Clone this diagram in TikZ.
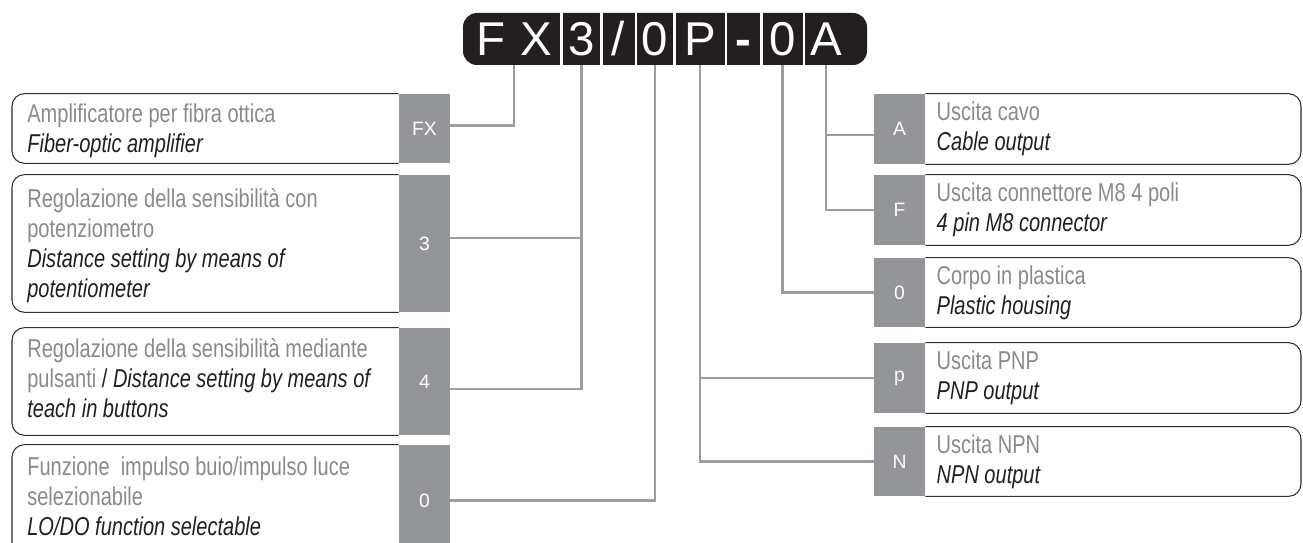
\documentclass[tikz,border=0pt]{standalone}
\usepackage{fontspec}
\setmainfont{Liberation Sans}[FakeStretch=0.775]
\newfontfamily\codefont{Liberation Sans}
\usetikzlibrary{positioning}

\definecolor{barblack}{RGB}{35,31,32}
\definecolor{keygray}{RGB}{147,149,152}
\definecolor{wiregray}{RGB}{155,157,160}
\definecolor{lightdesc}{RGB}{138,138,141}
\definecolor{darkdesc}{RGB}{35,31,32}
\definecolor{framegray}{RGB}{45,45,45}

\newcommand{\itl}[1]{{\color{lightdesc}#1}}
\newcommand{\enl}[1]{{\color{darkdesc}\itshape #1}}

\tikzset{
  key/.style={fill=keygray, text=white, inner sep=0pt, minimum width=1.02cm,
    font=\codefont\fontsize{11}{11}\selectfont},
  code/.style={text=white, inner sep=0pt, minimum height=1.04cm,
    text height=0.68cm, text depth=0pt,
    font=\codefont\fontsize{27}{27}\selectfont},
  wire/.style={draw=wiregray, line width=1.2pt},
  frame/.style={draw=framegray, line width=0.6pt, rounded corners=0.25cm},
  desc/.style={anchor=north west, align=left, inner sep=0pt,
    font=\fontsize{14.7}{17.1}\selectfont},
}

\begin{document}
\begin{tikzpicture}[x=0.02cm, y=-0.02cm]
        \useasboundingbox (0,0) rectangle (1303,543);
        \clip (0,0) rectangle (1303,543);

        % code bar
        \fill[barblack, rounded corners=0.28cm] (463,13) rectangle (867,65);
        \foreach \x in {561.5,601.5,636,674.5,726,761.5,804}
            \draw[white, line width=1.4pt] (\x,13) -- (\x,65);
        \node[code] (codeFX) at (514,39) {F\hspace{0.3cm}X};
        \node[code] (code3) at (581.5,39) {3};
        \node[code] (codeSl) at (618.5,39) {/};
        \node[code] (code0) at (655,39) {0};
        \node[code] (codeP) at (700,39) {P};
        \node[code] (codeDash) at (743.5,39) {\bfseries -};
        \node[code] (codeO) at (782.5,39) {0};
        \node[code] (codeA) at (826,39) {A};

        \coordinate (lx) at (12,0);
        \coordinate (rx) at (1301,0);

        % left keys
        \node[key, minimum height=1.38cm] (keyFX) at (424.5,128.5) {FX};
        \node[key, minimum height=2.74cm] (key3) at (424.5,243.5) {3};
        \node[key, minimum height=2.14cm] (key4) at (424.5,381.5) {4};
        \node[key, minimum height=2.22cm] (key0) at (424.5,500.5) {0};

        % right keys
        \node[key, minimum height=1.40cm] (keyA) at (899.5,129) {A};
        \node[key, minimum height=1.40cm] (keyF) at (899.5,210) {F};
        \node[key, minimum height=1.38cm] (keyO) at (899.5,292.5) {0};
        \node[key, minimum height=1.40cm] (keyP) at (899.5,378) {p};
        \node[key, minimum height=1.38cm] (keyN) at (899.5,461.5) {N};

        \foreach \k in {keyFX,key3,key4,key0}
            \draw[frame] (\k.north west) -- (\k.north west -| lx) -- (\k.south west -| lx) -- (\k.south west);
        \foreach \k in {keyA,keyF,keyO,keyP,keyN}
            \draw[frame] (\k.north east) -- (\k.north east -| rx) -- (\k.south east -| rx) -- (\k.south east);

        \node[desc] (descFX) at (27,101) {\strut\itl{Amplificatore per fibra ottica}\\ \enl{Fiber-optic amplifier}};
        \node[desc] (desc3) at (27,186) {\strut\itl{Regolazione della sensibilità con}\\ \itl{potenziometro}\\ \enl{Distance setting by means of}\\ \enl{potentiometer}};
        \node[desc] (desc4) at (27,336) {\strut\itl{Regolazione della sensibilità mediante}\\ \itl{pulsanti} {\color{darkdesc}/} \enl{Distance setting by means of}\\ \enl{teach in buttons}};
        \node[desc] (desc0) at (27,454) {\strut\itl{Funzione\ \ impulso buio/impulso luce}\\ \itl{selezionabile}\\ \enl{LO/DO function selectable}};

        \node[desc, below right=0.1cm and 0.22cm of keyA.north east] (descA) {\strut\itl{Uscita cavo}\\ \enl{Cable output}};
        \node[desc, below right=0.1cm and 0.22cm of keyF.north east] (descF) {\strut\itl{Uscita connettore M8 4 poli}\\ \enl{4 pin M8 connector}};
        \node[desc, below right=0.1cm and 0.22cm of keyO.north east] (descO) {\strut\itl{Corpo in plastica}\\ \enl{Plastic housing}};
        \node[desc, below right=0.1cm and 0.22cm of keyP.north east] (descP) {\strut\itl{Uscita PNP}\\ \enl{PNP output}};
        \node[desc, below right=0.1cm and 0.22cm of keyN.north east] (descN) {\strut\itl{Uscita NPN}\\ \enl{NPN output}};

        % connectors
        \draw[wire] ([yshift=0.06cm]keyFX.east) -| (codeFX.south);
        \draw[wire] ([yshift=0.11cm]key3.east) -| (code3.south);
        \draw[wire] ([yshift=-0.15cm]key4.east) -| (code3.south);
        \draw[wire] (key0.east) -| (code0.south);
        \draw[wire] ([yshift=-0.12cm]keyA.west) -| (codeA.south);
        \draw[wire] (keyF.west) -| (codeA.south);
        \draw[wire] (keyO.west) -| (codeO.south);
        \draw[wire] (keyP.west) -| (codeP.south);
        \draw[wire] (keyN.west) -| (codeP.south);
\end{tikzpicture}
\end{document}
